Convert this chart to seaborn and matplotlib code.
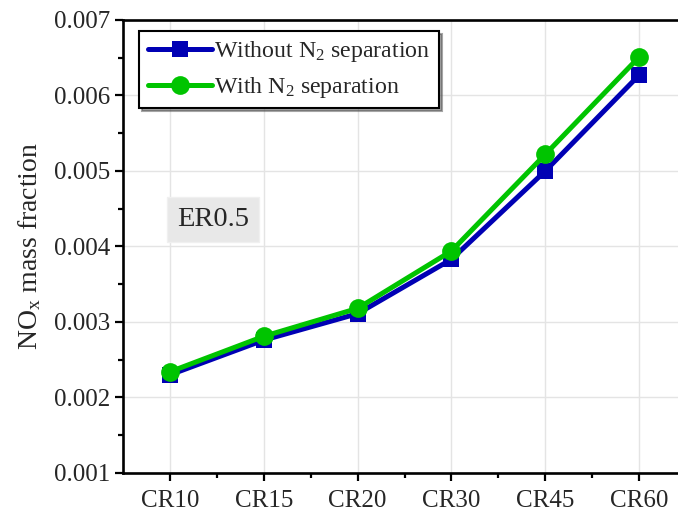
import numpy as np
import pandas as pd
import matplotlib
matplotlib.use("Agg")
import matplotlib.pyplot as plt
from matplotlib.ticker import MultipleLocator, FormatStrFormatter
from matplotlib.lines import Line2D
import seaborn as sns

# Compression-ratio cases and NOx mass fractions for the two configurations
categories = ["CR10", "CR15", "CR20", "CR30", "CR45", "CR60"]
without_n2 = [0.00230, 0.00276, 0.00311, 0.00383, 0.00500, 0.00627]
with_n2 = [0.00234, 0.00281, 0.00318, 0.00394, 0.00522, 0.00651]
series_names = ["Without N$_2$ separation", "With N$_2$ separation"]

df = pd.DataFrame({
    "case": categories * 2,
    "value": without_n2 + with_n2,
    "series": [series_names[0]] * len(categories) + [series_names[1]] * len(categories),
})

sns.set_style("white")
plt.rcParams["font.family"] = ["Liberation Serif", "DejaVu Serif"]
plt.rcParams["mathtext.fontset"] = "custom"
plt.rcParams["mathtext.rm"] = "Liberation Serif"
plt.rcParams["mathtext.it"] = "Liberation Serif:italic"

blue = "#0000b4"
green = "#00c400"
palette = {series_names[0]: blue, series_names[1]: green}
markers = {series_names[0]: "s", series_names[1]: "o"}

fig = plt.figure(figsize=(6.78, 5.12), dpi=100)
ax = fig.add_axes([0.1814, 0.0762, 0.8305, 0.8848])

ax.grid(True, which="major", color="#e4e4e4", linewidth=1.0, zorder=0)
ax.set_axisbelow(True)

sns.lineplot(data=df, x="case", y="value", hue="series", style="series",
             palette=palette, markers=markers, dashes=False, linewidth=3.6,
             markersize=12, markeredgewidth=0, sort=False, legend=False, ax=ax)
# slightly larger circles for the second series
for line in ax.get_lines():
    if line.get_marker() == "o":
        line.set_markersize(13.5)

ax.set_xlim(-0.5, 5.5)
ax.set_ylim(0.001, 0.007)
ax.yaxis.set_major_locator(MultipleLocator(0.001))
ax.yaxis.set_minor_locator(MultipleLocator(0.0005))
ax.yaxis.set_major_formatter(FormatStrFormatter("%.3f"))
ax.set_xticks(range(len(categories)))
ax.set_xticklabels(categories)
ax.set_xticks(np.arange(0.5, len(categories) - 1, 1.0), minor=True)

ax.tick_params(axis="both", which="both", bottom=True, left=True, top=False, right=False)
ax.tick_params(axis="both", which="major", direction="out", length=6, width=1.6,
               color="black")
ax.tick_params(axis="both", which="minor", direction="out", length=3.5, width=1.6,
               color="black")
ax.tick_params(axis="y", labelsize=18, pad=3)
ax.tick_params(axis="x", labelsize=18, pad=6)

for side in ["left", "bottom", "top", "right"]:
    ax.spines[side].set_visible(True)
    ax.spines[side].set_linewidth(1.9)
    ax.spines[side].set_color("black")

ax.set_xlabel("")
ax.set_ylabel("NO$_\\mathrm{x}$ mass fraction", fontsize=20, labelpad=8)

handles = [
    Line2D([], [], color=blue, lw=3.6, marker="s", markersize=12, markeredgewidth=0),
    Line2D([], [], color=green, lw=3.6, marker="o", markersize=13.5, markeredgewidth=0),
]
leg = ax.legend(handles, series_names, loc="upper left", bbox_to_anchor=(0.016, 0.992),
                fontsize=17.2, frameon=True, fancybox=False, shadow=True,
                edgecolor="black", framealpha=1, handlelength=2.7, handletextpad=0.1,
                borderpad=0.35, labelspacing=0.45, borderaxespad=0.3)
leg.get_frame().set_linewidth(1.5)

ax.text(0.46, 0.00436, "ER0.5", fontsize=20.5, ha="center", va="center",
        bbox=dict(boxstyle="square,pad=0.35", facecolor="#e8e8e8", edgecolor="#f0f0f0"))

fig.savefig("out.png", dpi=100)
